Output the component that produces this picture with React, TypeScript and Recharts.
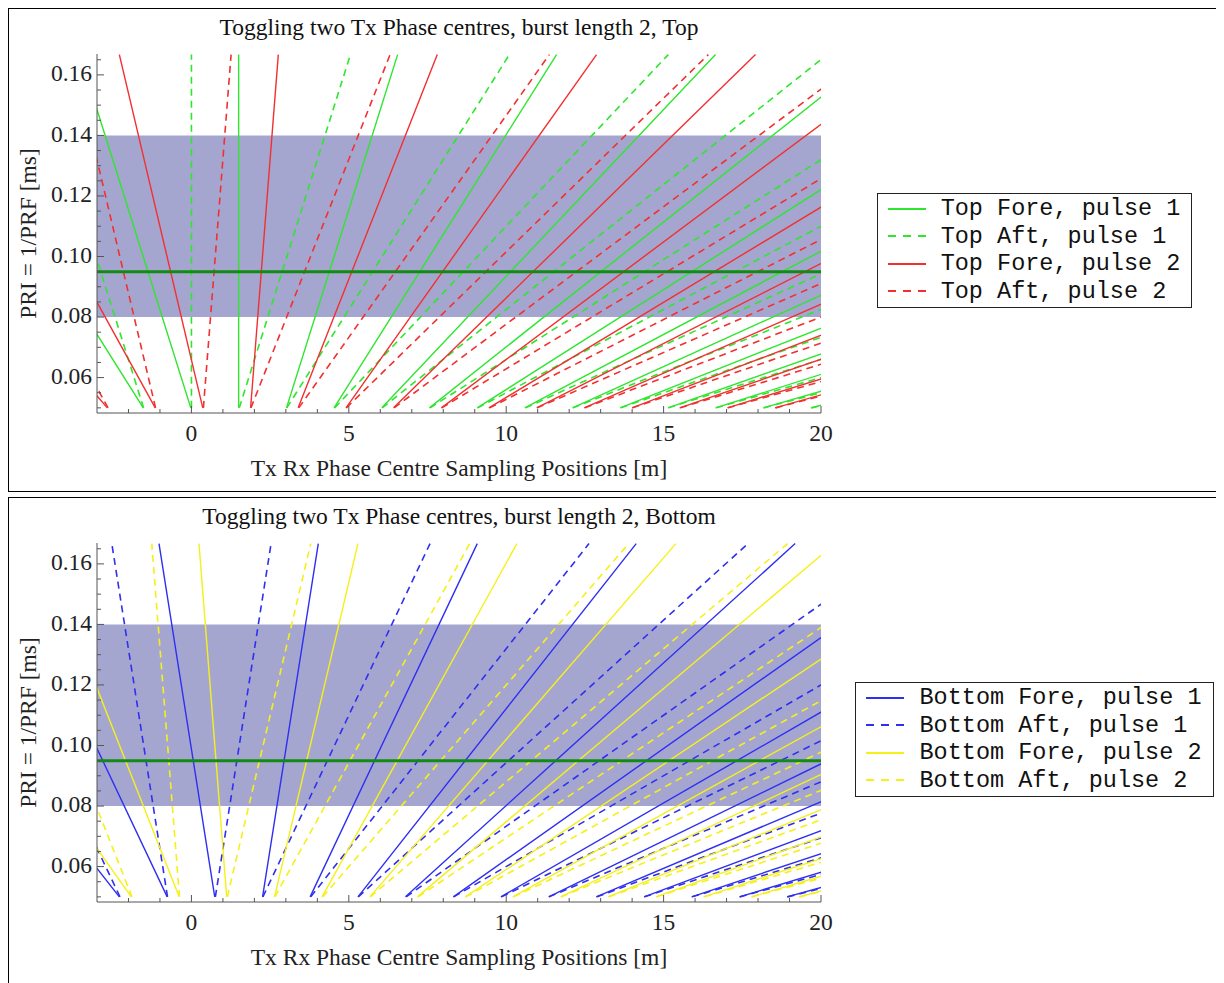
import React from "react";
import {
  LineChart,
  Line,
  XAxis,
  YAxis,
  ReferenceArea,
  ReferenceLine,
  Legend,
} from "recharts";

// PRI range over which every sampling line is drawn [ms]
const priRange = [0.05, 0.1667];
const priBand = [0.08, 0.14];
const priOperating = 0.095;

const xTicks = [-2, -1, 0, 1, 2, 3, 4, 5, 6, 7, 8, 9, 10, 11, 12, 13, 14, 15, 16, 17, 18, 19, 20];
const xTickLabels = [0, 5, 10, 15, 20];
const yTicks = [
  0.05, 0.055, 0.06, 0.065, 0.07, 0.075, 0.08, 0.085, 0.09, 0.095, 0.1, 0.105,
  0.11, 0.115, 0.12, 0.125, 0.13, 0.135, 0.14, 0.145, 0.15, 0.155, 0.16, 0.165,
];
const yTickLabels = [0.06, 0.08, 0.1, 0.12, 0.14, 0.16];

// each line: [x at PRI 0.05, x at PRI 0.1667] in metres (may lie outside the plot)
const topForeP1 = [
  [-1.53, -8.6], [-0.02, -3.55], [1.5, 1.5], [3.02, 6.55], [4.53, 11.6],
  [6.05, 16.65], [7.56, 21.7], [9.08, 26.76], [10.59, 31.81], [12.11, 36.86],
  [13.62, 41.91], [15.14, 46.96], [16.65, 52.01], [18.17, 57.06], [19.68, 62.11],
];
const topAftP1 = [
  [-1.52, -5.05], [0, 0], [1.52, 5.05], [3.03, 10.1], [4.55, 15.15],
  [6.06, 20.2], [7.58, 25.26], [9.09, 30.31], [10.61, 35.36], [12.12, 40.41],
  [13.64, 45.46], [15.15, 50.51], [16.67, 55.56], [18.18, 60.61], [19.7, 65.66],
];
const topForeP2 = [
  [-2.67, -12.39], [-1.15, -7.34], [0.36, -2.29], [1.88, 2.76], [3.39, 7.81],
  [4.91, 12.87], [6.42, 17.92], [7.94, 22.97], [9.45, 28.02], [10.97, 33.07],
  [12.48, 38.12], [14.0, 43.17], [15.51, 48.22], [17.03, 53.27], [18.54, 58.32],
];
const topAftP2 = [
  [-2.65, -8.84], [-1.14, -3.79], [0.38, 1.26], [1.89, 6.31], [3.41, 11.37],
  [4.92, 16.42], [6.44, 21.47], [7.95, 26.52], [9.47, 31.57], [10.98, 36.62],
  [12.5, 41.67], [14.01, 46.72], [15.53, 51.77], [17.04, 56.82], [18.56, 61.88],
];
const bottomForeP1 = [
  [-2.29, -11.13], [-0.77, -6.08], [0.74, -1.03], [2.26, 4.03], [3.77, 9.08],
  [5.29, 14.13], [6.8, 19.18], [8.32, 24.23], [9.83, 29.28], [11.35, 34.33],
  [12.86, 39.38], [14.38, 44.43], [15.89, 49.49], [17.41, 54.54], [18.92, 59.59],
];
const bottomAftP1 = [
  [-2.27, -7.58], [-0.76, -2.53], [0.76, 2.53], [2.27, 7.58], [3.79, 12.63],
  [5.3, 17.68], [6.82, 22.73], [8.33, 27.78], [9.85, 32.83], [11.36, 37.88],
  [12.88, 42.93], [14.39, 47.99], [15.91, 53.04], [17.42, 58.09], [18.94, 63.14],
];
const bottomForeP2 = [
  [-1.91, -9.87], [-0.39, -4.81], [1.12, 0.24], [2.64, 5.29], [4.15, 10.34],
  [5.67, 15.39], [7.18, 20.44], [8.7, 25.49], [10.21, 30.54], [11.73, 35.59],
  [13.24, 40.65], [14.76, 45.7], [16.27, 50.75], [17.79, 55.8], [19.3, 60.85],
];
const bottomAftP2 = [
  [-1.89, -6.31], [-0.38, -1.26], [1.14, 3.79], [2.65, 8.84], [4.17, 13.89],
  [5.68, 18.94], [7.2, 23.99], [8.71, 29.04], [10.23, 34.09], [11.74, 39.15],
  [13.26, 44.2], [14.77, 49.25], [16.29, 54.3], [17.8, 59.35], [19.32, 64.4],
];

type Series = { name: string; lines: number[][]; color: string; dashed: boolean };

const topSeries: Series[] = [
  { name: "Top Fore, pulse 1", lines: topForeP1, color: "#2ee62e", dashed: false },
  { name: "Top Aft, pulse 1", lines: topAftP1, color: "#2ee62e", dashed: true },
  { name: "Top Fore, pulse 2", lines: topForeP2, color: "#f23030", dashed: false },
  { name: "Top Aft, pulse 2", lines: topAftP2, color: "#f23030", dashed: true },
];
const bottomSeries: Series[] = [
  { name: "Bottom Fore, pulse 1", lines: bottomForeP1, color: "#2f2ff2", dashed: false },
  { name: "Bottom Aft, pulse 1", lines: bottomAftP1, color: "#2f2ff2", dashed: true },
  { name: "Bottom Fore, pulse 2", lines: bottomForeP2, color: "#f6f01a", dashed: false },
  { name: "Bottom Aft, pulse 2", lines: bottomAftP2, color: "#f6f01a", dashed: true },
];

const SERIF = "'Liberation Serif', 'Times New Roman', serif";
const MONO = "'Liberation Mono', 'Courier New', monospace";
const FRAME = "#555";
const FONT_SIZE = 23.5;

// one Line per series, segments split by a null point
const toSegments = (lines: number[][]) =>
  lines.flatMap(([xb, xt]) => [
    { x: xb, pri: priRange[0] },
    { x: xt, pri: priRange[1] },
    { x: xt, pri: null },
  ]);

const isMajor = (list: number[], v: number) => list.some((t) => Math.abs(t - v) < 1e-9);

const BottomTick = (props: any) => {
  const { x, y, payload } = props;
  const major = isMajor(xTickLabels, payload.value);
  return (
    <g>
      <line x1={x} x2={x} y1={y} y2={y - (major ? 7 : 4)} stroke={FRAME} />
      {major && (
        <text x={x} y={y + 20} dy="0.35em" textAnchor="middle" fontFamily={SERIF} fontSize={FONT_SIZE} fill="#222">
          {payload.value}
        </text>
      )}
    </g>
  );
};

const TopTick = (props: any) => {
  const { x, y, payload } = props;
  const major = isMajor(xTickLabels, payload.value);
  return <line x1={x} x2={x} y1={y} y2={y + (major ? 7 : 4)} stroke={FRAME} />;
};

const LeftTick = (props: any) => {
  const { x, y, payload } = props;
  const major = isMajor(yTickLabels, payload.value);
  return (
    <g>
      <line x1={x} x2={x + (major ? 7 : 4)} y1={y} y2={y} stroke={FRAME} />
      {major && (
        <text x={x - 5} y={y - 2} dy="0.35em" textAnchor="end" fontFamily={SERIF} fontSize={FONT_SIZE} fill="#222">
          {payload.value.toFixed(2)}
        </text>
      )}
    </g>
  );
};

const RightTick = (props: any) => {
  const { x, y, payload } = props;
  const major = isMajor(yTickLabels, payload.value);
  return <line x1={x} x2={x - (major ? 7 : 4)} y1={y} y2={y} stroke={FRAME} />;
};

function LegendBox({ series }: { series: Series[] }) {
  return (
    <div style={{ display: "flex", justifyContent: "center" }}>
      <div style={{ border: "1px solid #222", background: "#fff", padding: "1px 11px 2px 10px" }}>
        {series.map((s) => (
          <div key={s.name} style={{ display: "flex", alignItems: "center", height: 27.5 }}>
            <svg width={38} height={6} style={{ display: "block" }}>
              <line
                x1={0}
                y1={3}
                x2={38}
                y2={3}
                stroke={s.color}
                strokeWidth={2}
                strokeDasharray={s.dashed ? "8 7" : undefined}
              />
            </svg>
            <span
              style={{
                marginLeft: 15,
                fontFamily: MONO,
                fontSize: FONT_SIZE,
                whiteSpace: "pre",
                lineHeight: 1,
                color: "#111",
              }}
            >
              {s.name}
            </span>
          </div>
        ))}
      </div>
    </div>
  );
}

function Panel({ title, series, top, height }: { title: string; series: Series[]; top: number; height: number }) {
  return (
    <div
      style={{
        position: "absolute",
        left: 0,
        top,
        width: 1214,
        height,
        border: "1px solid #000",
        boxSizing: "border-box",
        background: "#fff",
      }}
    >
      <div
        style={{
          position: "absolute",
          left: 88,
          top: 7,
          width: 724,
          textAlign: "center",
          fontFamily: SERIF,
          fontSize: FONT_SIZE,
          lineHeight: 1,
          color: "#111",
          whiteSpace: "pre",
        }}
      >
        {title}
      </div>
      <LineChart width={1212} height={482} margin={{ top: 45, right: 400, bottom: 38, left: 0 }}>
        <XAxis
          dataKey="x"
          type="number"
          domain={[-3, 20]}
          allowDataOverflow
          ticks={xTicks}
          interval={0}
          tickSize={0}
          tickMargin={0}
          tickLine={false}
          tick={<BottomTick />}
          height={40}
          axisLine={{ stroke: FRAME }}
          label={(p: any) => {
            const vb = p.viewBox || {};
            return (
              <text
                x={vb.x + vb.width / 2}
                y={vb.y + 55}
                dy="0.35em"
                textAnchor="middle"
                fontFamily={SERIF}
                fontSize={FONT_SIZE}
                fill="#222"
              >
                Tx Rx Phase Centre Sampling Positions [m]
              </text>
            );
          }}
        />
        <XAxis
          xAxisId="top"
          orientation="top"
          type="number"
          domain={[-3, 20]}
          allowDataOverflow
          ticks={xTicks}
          interval={0}
          tickSize={0}
          tickMargin={0}
          tickLine={false}
          tick={<TopTick />}
          height={0}
          axisLine={{ stroke: FRAME }}
        />
        <YAxis
          type="number"
          domain={[0.0483, 0.1669]}
          allowDataOverflow
          ticks={yTicks}
          interval={0}
          tickSize={0}
          tickMargin={0}
          tickLine={false}
          tick={<LeftTick />}
          width={88}
          axisLine={{ stroke: FRAME }}
          label={(p: any) => {
            const vb = p.viewBox || {};
            const cx = 19;
            const cy = vb.y + vb.height / 2;
            return (
              <text
                x={cx}
                y={cy}
                dy="0.35em"
                textAnchor="middle"
                transform={`rotate(-90, ${cx}, ${cy})`}
                fontFamily={SERIF}
                fontSize={FONT_SIZE}
                fill="#222"
              >
                PRI = 1/PRF [ms]
              </text>
            );
          }}
        />
        <YAxis
          yAxisId="right"
          orientation="right"
          type="number"
          domain={[0.0483, 0.1669]}
          allowDataOverflow
          ticks={yTicks}
          interval={0}
          tickSize={0}
          tickMargin={0}
          tickLine={false}
          tick={<RightTick />}
          width={0}
          axisLine={{ stroke: FRAME }}
        />
        <ReferenceArea y1={priBand[0]} y2={priBand[1]} fill="#a5a6d0" fillOpacity={1} stroke="none" />
        {series.map((s) => (
          <Line
            key={s.name}
            data={toSegments(s.lines)}
            dataKey="pri"
            name={s.name}
            stroke={s.color}
            strokeWidth={s.dashed ? 1.6 : 1.4}
            strokeDasharray={s.dashed ? "7 5" : undefined}
            dot={false}
            activeDot={false}
            isAnimationActive={false}
          />
        ))}
        <ReferenceLine y={priOperating} stroke="#138a13" strokeWidth={3} />
        <Legend
          layout="vertical"
          align="center"
          verticalAlign="middle"
          wrapperStyle={{ left: 830, top: 184, width: 391 }}
          content={() => <LegendBox series={series} />}
        />
      </LineChart>
    </div>
  );
}

export default function App() {
  return (
    <div style={{ position: "relative", width: 1216, height: 975, overflow: "hidden" }}>
      <Panel title="Toggling two Tx Phase centres, burst length 2, Top" series={topSeries} top={0} height={484} />
      <Panel title="Toggling two Tx Phase centres, burst length 2, Bottom" series={bottomSeries} top={489} height={496} />
    </div>
  );
}
